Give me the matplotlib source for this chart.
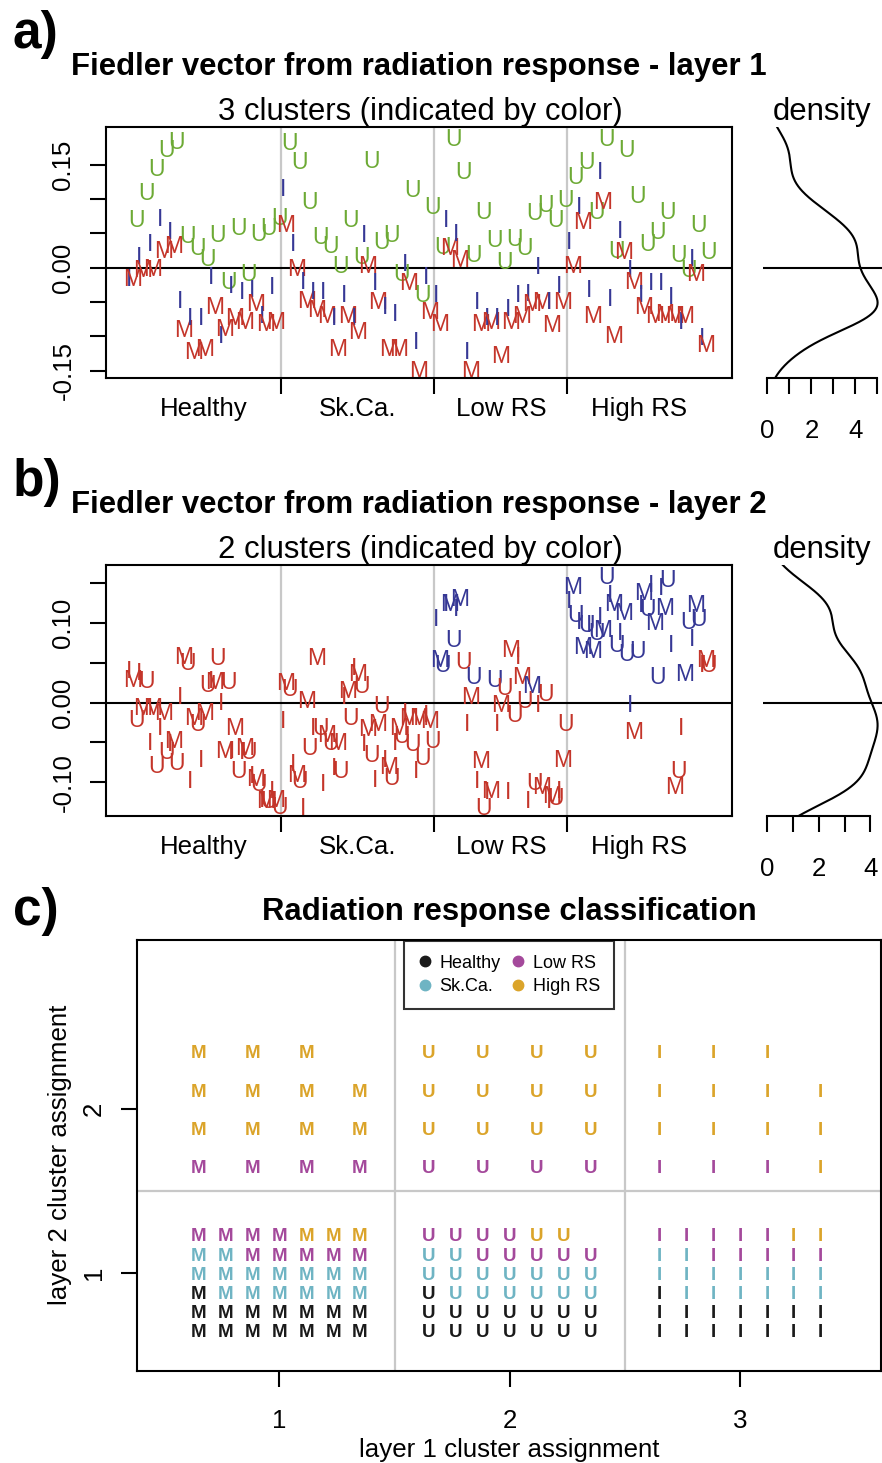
import numpy as np
import matplotlib
matplotlib.use("Agg")
import matplotlib.pyplot as plt
from matplotlib.lines import Line2D

plt.rcParams['font.family'] = ['Liberation Sans', 'DejaVu Sans']

# sample groups (samples are in this order, 3 letters per sample: I, M, U)
groups = ["Healthy", "Sk.Ca.", "Low RS", "High RS"]
group_sizes = [15, 15, 13, 14]
group_colors = ["#1a1a1a", "#6fb4c3", "#a4499b", "#dba42a"]

# layer 1 Fiedler vector values
l1_I = [-0.013, 0.018, 0.038, 0.074, 0.055, -0.045, -0.071, -0.071, -0.011, -0.096, -0.023, -0.033, -0.030, -0.067, -0.025,
        0.118, 0.038, -0.018, -0.033, -0.033, -0.071, -0.037, -0.071, 0.050, -0.020, -0.054, -0.064, 0.009, -0.105, -0.011,
        -0.037, 0.072, 0.052, -0.120, -0.047, -0.071, -0.071, -0.057, -0.037, -0.035, 0.004, -0.047, -0.023,
        0.040, 0.091, -0.030, 0.142, -0.042, 0.057, 0.000, -0.037, -0.020, -0.020, -0.040, -0.076, 0.016, -0.100]
l1_M = [-0.013, -0.001, 0.001, 0.028, 0.035, -0.088, -0.120, -0.115, -0.055, -0.086, -0.071, -0.076, -0.050, -0.079, -0.076,
        0.065, 0.001, -0.045, -0.059, -0.067, -0.115, -0.067, -0.091, 0.006, -0.047, -0.115, -0.115, -0.020, -0.147, -0.062,
        -0.079, 0.031, 0.014, -0.147, -0.079, -0.076, -0.125, -0.076, -0.067, -0.050, -0.047, -0.081, -0.047,
        0.006, 0.069, -0.067, 0.099, -0.096, 0.026, -0.018, -0.054, -0.067, -0.064, -0.067, -0.067, -0.006, -0.110]
l1_U = [0.072, 0.112, 0.147, 0.175, 0.186, 0.049, 0.031, 0.016, 0.050, -0.018, 0.061, -0.006, 0.052, 0.061, 0.075,
        0.184, 0.157, 0.099, 0.048, 0.034, 0.006, 0.072, 0.018, 0.158, 0.040, 0.050, -0.006, 0.116, -0.037, 0.091,
        0.033, 0.190, 0.142, 0.021, 0.084, 0.044, 0.011, 0.045, 0.031, 0.082, 0.094, 0.072, 0.101,
        0.135, 0.157, 0.084, 0.190, 0.028, 0.174, 0.108, 0.038, 0.055, 0.084, 0.021, -0.001, 0.065, 0.026]

# layer 2 Fiedler vector values
l2_I = [0.042, 0.040, -0.048, -0.030, -0.050, 0.010, -0.096, -0.070, 0.030, 0.002, -0.060, -0.060, -0.090, -0.120, -0.108,
        -0.021, -0.075, -0.130, -0.030, -0.100, -0.080, 0.010, 0.046, -0.050, -0.095, -0.070, -0.048, -0.010, -0.083, -0.013,
        0.108, 0.127, 0.120, -0.025, -0.096, -0.110, -0.025, -0.110, 0.060, -0.121, 0.000, -0.121, -0.108,
        0.130, 0.104, 0.100, 0.110, 0.138, 0.090, 0.000, 0.125, 0.150, 0.146, 0.075, -0.029, 0.083, 0.050]
l2_M = [0.031, -0.004, -0.004, -0.010, -0.046, 0.060, -0.017, -0.010, 0.029, -0.058, -0.029, -0.054, -0.094, -0.121, -0.120,
        0.027, -0.088, 0.004, 0.058, -0.038, -0.048, 0.017, 0.038, -0.031, -0.025, -0.079, -0.029, -0.017, -0.017, -0.020,
        0.056, 0.127, 0.133, 0.010, -0.071, -0.108, 0.000, 0.069, 0.035, 0.023, -0.104, -0.115, -0.069,
        0.148, 0.073, 0.067, 0.094, 0.127, 0.115, -0.035, 0.140, 0.102, 0.121, -0.104, 0.038, 0.125, 0.056]
l2_U = [-0.019, 0.030, -0.077, -0.060, -0.073, 0.052, -0.025, 0.025, 0.058, 0.029, -0.083, -0.060, -0.100, -0.121, -0.129,
        0.019, -0.096, -0.054, -0.029, -0.048, -0.083, -0.017, 0.023, -0.063, -0.002, -0.092, -0.040, -0.050, -0.067, -0.046,
        0.050, 0.081, 0.054, 0.035, -0.130, 0.031, 0.021, -0.013, 0.004, -0.098, 0.013, -0.117, -0.025,
        0.113, 0.100, 0.090, 0.160, 0.075, 0.063, 0.067, 0.120, 0.035, 0.156, -0.083, 0.104, 0.108, 0.050]

# layer 2 cluster assignment (1 or 2)
l2_cl_I = [1] * 30 + [2, 2, 2, 1, 1, 1, 1, 1, 1, 1, 1, 1, 1] + [2, 2, 2, 2, 2, 2, 2, 2, 2, 2, 2, 1, 2, 1]
l2_cl_M = [1] * 30 + [2, 2, 2, 1, 1, 1, 1, 1, 1, 2, 1, 1, 1] + [2, 2, 2, 2, 2, 2, 1, 2, 2, 2, 1, 2, 2, 1]
l2_cl_U = [1] * 30 + [2, 2, 1, 2, 1, 2, 1, 1, 1, 1, 1, 1, 1] + [2, 2, 2, 2, 2, 2, 2, 2, 2, 2, 1, 2, 2, 1]

# layer 1 cluster for each letter
l1_cluster = {"M": 1, "U": 2, "I": 3}

RED, GREEN, BLUE = "#c4352a", "#6daa35", "#363895"
col_l1 = {1: RED, 2: GREEN, 3: BLUE}
col_l2 = {1: RED, 2: BLUE}

letters = ["I", "M", "U"]
layer1 = {"I": l1_I, "M": l1_M, "U": l1_U}
layer2 = {"I": l2_I, "M": l2_M, "U": l2_U}
layer2_cl = {"I": l2_cl_I, "M": l2_cl_M, "U": l2_cl_U}
n = sum(group_sizes)
grp = np.repeat(np.arange(4), group_sizes)
bounds = np.cumsum(group_sizes) * 3 + 0.5
starts = np.concatenate([[1], bounds[:-1] + 0.5])
ends = bounds - 0.5
centers = (starts + ends) / 2

W, H = 882, 1463
fig = plt.figure(figsize=(W / 100, H / 100), dpi=100)


def px_axes(x0, y0, x1, y1):
    return fig.add_axes([x0 / W, 1 - y1 / H, (x1 - x0) / W, (y1 - y0) / H])


TICK = 18.6
BIG = 22.4
LW = 1.5


def kde(vals, grid):
    v = np.asarray(vals)
    sd = v.std(ddof=1)
    q75, q25 = np.percentile(v, [75, 25])
    bw = 0.9 * min(sd, (q75 - q25) / 1.34) * len(v) ** -0.2
    z = (grid[:, None] - v[None, :]) / bw
    return np.exp(-0.5 * z ** 2).sum(1) / (len(v) * bw * np.sqrt(2 * np.pi))


def fiedler_panel(top, values, colfun, ylim, yticks, ylabels,
                  label, label_dy, title, subtitle):
    ax = px_axes(106, top, 732, top + 251)
    ax.set_xlim(-5.8, 177.8)
    ax.set_ylim(*ylim)
    for b in bounds[:-1]:
        ax.axvline(b, color="#c8c8c8", lw=1.6, zorder=0)
    ax.axhline(0, color="k", lw=LW, zorder=1)
    allv = []
    for k in range(n):
        for j, L in enumerate(letters):
            v = values[L][k]
            allv.append(v)
            ax.text(3 * k + j + 1, v, L, color=colfun(L, k), fontsize=16.5,
                    ha="center", va="center_baseline", zorder=2, clip_on=True)
    ax.set_xticks(bounds[:-1])
    ax.set_xticklabels([])
    ax.set_xticks(centers, minor=True)
    ax.set_xticklabels(groups, minor=True, fontsize=TICK)
    ax.tick_params(axis="x", which="minor", length=0, pad=13.5)
    ax.tick_params(axis="both", which="major", length=11.5, width=LW, labelsize=TICK)
    ax.tick_params(axis="y", pad=10.5)
    ax.set_yticks(yticks)
    ax.set_yticklabels(ylabels, rotation=90, va="center")
    for s in ax.spines.values():
        s.set_linewidth(LW)

    # density panel, x range = (0, max density) with 4% padding
    axd = px_axes(763, top, 882, top + 251)
    grid = np.linspace(ylim[0], ylim[1], 400)
    dens = kde(allv, grid)
    dmax = dens.max()
    axd.plot(dens, grid, color="k", lw=LW)
    axd.axhline(0, color="k", lw=LW)
    axd.set_xlim(-0.04 * dmax, 1.04 * dmax)
    axd.set_ylim(*ylim)
    for s in ["top", "right", "left"]:
        axd.spines[s].set_visible(False)
    tmax = int(np.floor(1.04 * dmax))
    axd.spines["bottom"].set_linewidth(LW)
    axd.spines["bottom"].set_bounds(0, tmax)
    axd.set_yticks([])
    axd.set_xticks(range(tmax + 1))
    axd.set_xticklabels([str(t) if t % 2 == 0 else "" for t in range(tmax + 1)])
    axd.tick_params(axis="x", length=11.5, width=LW, labelsize=TICK, pad=18)

    fig.text(13 / W, 1 - (top - 79 + label_dy) / H, label, fontsize=37, fontweight="bold",
             ha="left", va="baseline")
    fig.text(419 / W, 1 - (top - 52) / H, title, fontsize=BIG, fontweight="bold",
             ha="center", va="baseline")
    fig.text(420 / W, 1 - (top - 7) / H, subtitle, fontsize=BIG, ha="center", va="baseline")
    fig.text(822 / W, 1 - (top - 7) / H, "density", fontsize=BIG, ha="center", va="baseline")
    return ax


# panel a
fiedler_panel(127, layer1, lambda L, k: col_l1[l1_cluster[L]],
              (-0.1607, 0.2051), [-0.15, -0.10, -0.05, 0.0, 0.05, 0.10, 0.15],
              ["-0.15", "", "", "0.00", "", "", "0.15"],
              "a)", 0, "Fiedler vector from radiation response - layer 1",
              "3 clusters (indicated by color)")

# panel b
fiedler_panel(565, layer2, lambda L, k: col_l2[layer2_cl[L][k]],
              (-0.1425, 0.1729), [-0.10, -0.05, 0.0, 0.05, 0.10, 0.15],
              ["-0.10", "", "0.00", "", "0.10", ""],
              "b)", 10, "Fiedler vector from radiation response - layer 2",
              "2 clusters (indicated by color)")

# panel c
axc = px_axes(137, 940, 881, 1371)
axc.set_xlim(0.382, 3.612)
axc.set_ylim(0.404, 3.032)
for xv in (1.5, 2.5):
    axc.axvline(xv, color="#c8c8c8", lw=1.6, zorder=0)
axc.axhline(1.5, color="#c8c8c8", lw=1.6, zorder=0)

for L in letters:
    cl = np.array(layer2_cl[L])
    for c2 in (1, 2):
        idx = np.where(cl == c2)[0]
        m = len(idx)
        kcol = int(np.ceil(np.sqrt(m)))
        step = 0.7 / (kcol - 1)
        pos = np.arange(m)
        dx = -0.35 + (pos % kcol) * step
        dy = -0.35 + (pos // kcol) * step
        for s, ox, oy in zip(idx, dx, dy):
            axc.text(l1_cluster[L] + ox, c2 + oy, L, color=group_colors[grp[s]],
                     fontsize=13.5, fontweight="bold", ha="center", va="center_baseline")

axc.set_xticks([1, 2, 3])
axc.set_yticks([1, 2])
axc.set_yticklabels(["1", "2"], rotation=90, va="center")
axc.tick_params(axis="both", length=11.5, width=LW, labelsize=TICK)
axc.tick_params(axis="x", pad=16)
axc.tick_params(axis="y", pad=11)
for s in axc.spines.values():
    s.set_linewidth(LW)

handles = [Line2D([], [], ls="", marker="o", color=c, markersize=7.5) for c in group_colors]
leg = axc.legend(handles, groups, ncol=2, loc="upper left",
                 bbox_to_anchor=(404 / W, 1 - 941 / H), bbox_transform=fig.transFigure,
                 frameon=True, fancybox=False, edgecolor="k", fontsize=13,
                 handlelength=0.8, handletextpad=0.4, columnspacing=0.6,
                 borderpad=0.75, labelspacing=0.38, borderaxespad=0)
leg.get_frame().set_linewidth(LW)

fig.text(13 / W, 1 - 925 / H, "c)", fontsize=37, fontweight="bold", ha="left", va="baseline")
fig.text(509 / W, 1 - 920 / H, "Radiation response classification", fontsize=BIG,
         fontweight="bold", ha="center", va="baseline")
fig.text(509 / W, 1 - 1457 / H, "layer 1 cluster assignment", fontsize=TICK,
         ha="center", va="baseline")
fig.text(60 / W, 1 - 1155 / H, "layer 2 cluster assignment", fontsize=TICK,
         rotation=90, ha="center", va="center")

fig.savefig("out.png", dpi=100)
